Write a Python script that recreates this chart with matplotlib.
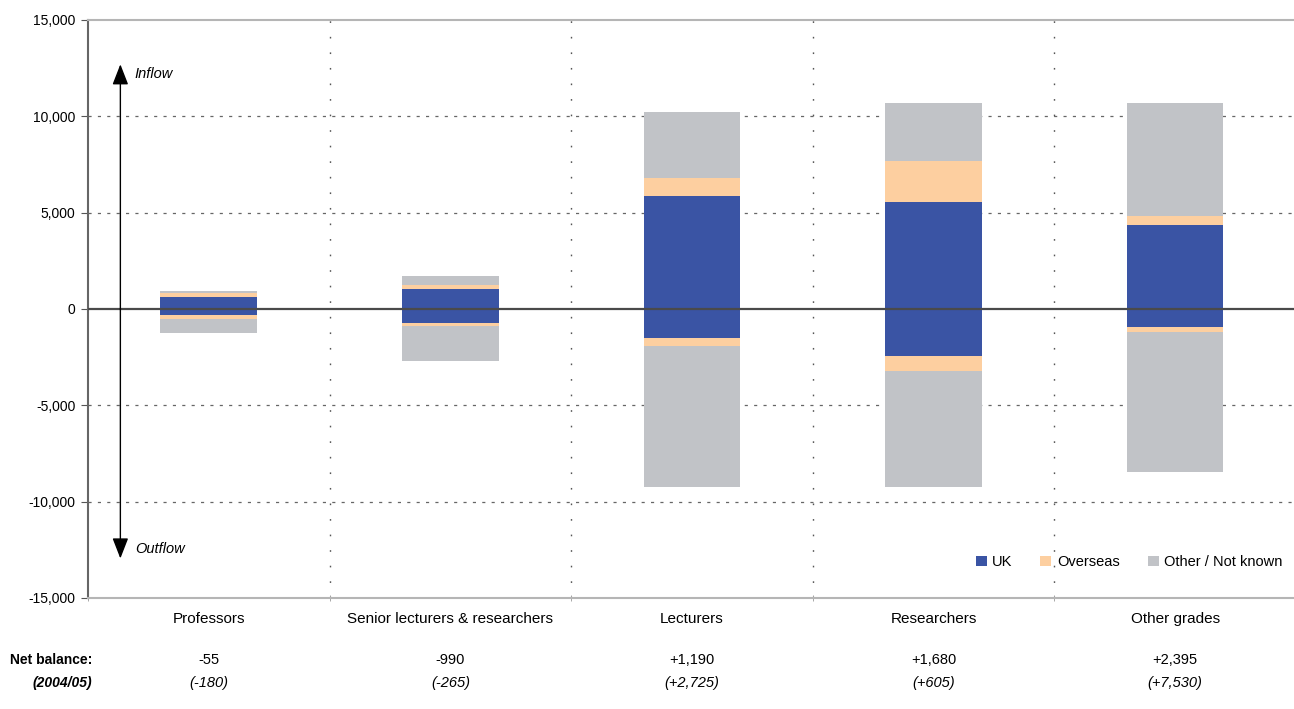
"""
Staff flows by grade: inflow vs outflow, split by source/destination
"""
import numpy as np
import matplotlib
matplotlib.use('Agg')
import matplotlib.pyplot as plt
from matplotlib.ticker import FuncFormatter, FixedLocator

# Data (staff numbers; inflow positive, outflow negative)
grades = ['Professors', 'Senior lecturers & researchers', 'Lecturers',
          'Researchers', 'Other grades']
uk_in = [640, 1050, 5880, 5570, 4360]
overseas_in = [180, 200, 900, 2130, 470]
other_in = [100, 450, 3460, 3010, 5880]
uk_out = [-300, -750, -1520, -2440, -950]
overseas_out = [-230, -150, -380, -760, -230]
other_out = [-700, -1800, -7320, -6020, -7270]
net_balance = ['-55', '-990', '+1,190', '+1,680', '+2,395']
net_prev = ['(-180)', '(-265)', '(+2,725)', '(+605)', '(+7,530)']

COLORS = {'UK': '#3a54a4', 'Overseas': '#fdcfa0', 'Other': '#c1c3c7'}

plt.rcParams['font.family'] = ['Liberation Sans', 'DejaVu Sans']

fig = plt.figure(figsize=(12.94, 7.09), dpi=100)
ax = fig.add_axes([0.068, 0.1566, 0.9335, 0.8152])

x = np.arange(len(grades)) + 0.5
w = 0.4

# Stacked inflow (up) and outflow (down)
uk_in_a, ov_in_a, ot_in_a = map(np.array, (uk_in, overseas_in, other_in))
uk_out_a, ov_out_a, ot_out_a = map(np.array, (uk_out, overseas_out, other_out))

ax.bar(x, uk_in_a, w, color=COLORS['UK'], zorder=3, label='UK')
ax.bar(x, ov_in_a, w, bottom=uk_in_a, color=COLORS['Overseas'], zorder=3, label='Overseas')
ax.bar(x, ot_in_a, w, bottom=uk_in_a + ov_in_a, color=COLORS['Other'], zorder=3,
       label='Other / Not known')
ax.bar(x, uk_out_a, w, color=COLORS['UK'], zorder=3)
ax.bar(x, ov_out_a, w, bottom=uk_out_a, color=COLORS['Overseas'], zorder=3)
ax.bar(x, ot_out_a, w, bottom=uk_out_a + ov_out_a, color=COLORS['Other'], zorder=3)

ax.set_xlim(0, len(grades))
ax.set_ylim(-15000, 15000)

# Grid: dashed horizontals, dotted category separators, solid zero line
for yv in [-10000, -5000, 5000, 10000]:
    ax.axhline(yv, color='#666666', lw=0.9, ls=(0, (2.5, 5)), zorder=1)
for xv in range(1, len(grades)):
    ax.axvline(xv, color='#555555', lw=1.0, ls=(0, (1.2, 10)), zorder=1)
ax.axhline(0, color='#4a4a4a', lw=1.6, zorder=4)

# Inflow / Outflow arrows
ax_x = 0.134
arrow_kw = dict(arrowstyle='-|>,head_length=0.9,head_width=0.35', color='black',
                lw=1.0, mutation_scale=14, shrinkA=0, shrinkB=0)
ax.annotate('', xy=(ax_x, 12700), xytext=(ax_x, 0), arrowprops=arrow_kw, zorder=5)
ax.annotate('', xy=(ax_x, -12950), xytext=(ax_x, 0), arrowprops=arrow_kw, zorder=5)
ax.text(ax_x + 0.06, 12200, 'Inflow', fontsize=10.5, style='italic', va='center')
ax.text(ax_x + 0.06, -12450, 'Outflow', fontsize=10.5, style='italic', va='center')

# Axes styling
ax.yaxis.set_major_locator(FixedLocator(np.arange(-15000, 15001, 5000)))
ax.yaxis.set_major_formatter(FuncFormatter(lambda v, _: f'{v:,.0f}'))
ax.set_xticks(x)
ax.set_xticklabels(grades, fontsize=11)
ax.set_xticks(range(0, len(grades) + 1), minor=True)
ax.tick_params(axis='x', which='major', length=0, pad=10)
ax.tick_params(axis='x', which='minor', length=4, direction='inout', color='#999999')
ax.tick_params(axis='y', length=5, color='#555555', labelsize=10, pad=4)

ax.spines['right'].set_visible(False)
ax.spines['left'].set_color('#666666')
ax.spines['left'].set_linewidth(1.5)
ax.spines['top'].set_color('#b5b5b5')
ax.spines['top'].set_linewidth(1.5)
ax.spines['bottom'].set_color('#b5b5b5')
ax.spines['bottom'].set_linewidth(1.5)

leg = ax.legend(loc='lower right', bbox_to_anchor=(1.0, 0.027), ncol=3, frameon=False,
                fontsize=10.5, handlelength=0.75, handleheight=0.75, handletextpad=0.4,
                columnspacing=1.9)

# Net balance rows under the category labels
fig.text(0.0715, 0.0691, 'Net balance:', ha='right', va='center', fontsize=10,
         fontweight='bold')
fig.text(0.0715, 0.0367, '(2004/05)', ha='right', va='center', fontsize=10,
         fontweight='bold', style='italic')
for xi, nb, npv in zip(x, net_balance, net_prev):
    xf = fig.transFigure.inverted().transform(ax.transData.transform((xi, 0)))[0]
    fig.text(xf, 0.0691, nb, ha='center', va='center', fontsize=10.5)
    fig.text(xf, 0.0367, npv, ha='center', va='center', fontsize=10.5, style='italic')

fig.savefig('out.png', dpi=100, facecolor='white')
